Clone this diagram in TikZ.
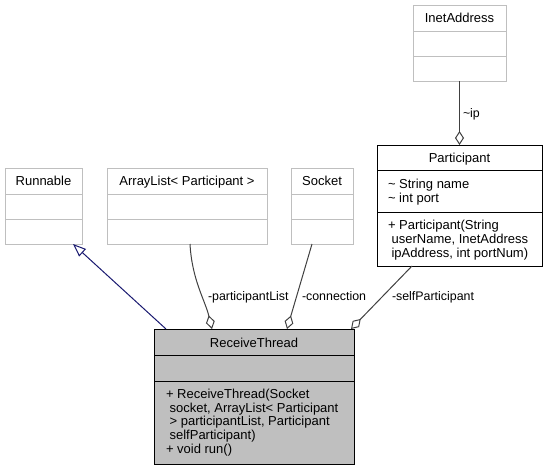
\documentclass[tikz,border=0pt]{standalone}
\usepackage{fontspec}
\setmainfont{Liberation Sans}
\usetikzlibrary{arrows.meta}
\definecolor{boxgray}{HTML}{BFBFBF}
\definecolor{edgegray}{HTML}{404040}
\definecolor{inhblue}{HTML}{191970}
\begin{document}
\begin{tikzpicture}[x=1pt,y=-1pt,
  every node/.style={font=\fontsize{13}{13.6}\selectfont, inner sep=0pt, outer sep=0pt},
  extcls/.style={rectangle, draw=boxgray, fill=white, line width=1pt},
  mycls/.style={rectangle, draw=black, fill=white, line width=1pt},
  maincls/.style={rectangle, draw=black, fill=boxgray, line width=1pt},
  extdiv/.style={draw=boxgray, line width=1pt},
  maindiv/.style={draw=black, line width=1pt},
  title/.style={anchor=base},
  members/.style={anchor=north west, align=left},
  aggr/.style={draw=edgegray, line width=1pt, {Diamond[open,length=14pt,width=9pt]}-},
  inh/.style={draw=inhblue, line width=1pt, -{Triangle[open,length=13pt,width=10pt]}},
  elabel/.style={anchor=base west, font=\fontsize{12.4}{13}\selectfont}
]
\useasboundingbox (0,0) rectangle (547,471);

% Runnable
\node[extcls, minimum width=77pt, minimum height=76pt] (run) at (43.5,206) {};
\draw[extdiv] (5,194) -- (82,194);
\draw[extdiv] (5,219) -- (82,219);
\node[title] (runt) at (43.5,185.5) {Runnable};

% ArrayList
\node[extcls, minimum width=160pt, minimum height=76pt] (al) at (187,206) {};
\draw[extdiv] (107,194) -- (267,194);
\draw[extdiv] (107,219) -- (267,219);
\node[title] (alt) at (187,185.5) {ArrayList< Participant >};

% Socket
\node[extcls, minimum width=62pt, minimum height=76pt] (sock) at (322,206) {};
\draw[extdiv] (291,194) -- (353,194);
\draw[extdiv] (291,219) -- (353,219);
\node[title] (sockt) at (322,185.5) {Socket};

% InetAddress
\node[extcls, minimum width=93pt, minimum height=76pt] (inet) at (459.5,43) {};
\draw[extdiv] (413,31) -- (506,31);
\draw[extdiv] (413,56) -- (506,56);
\node[title] (inett) at (459.5,22.5) {InetAddress};

% Participant
\node[mycls, minimum width=165pt, minimum height=121pt] (par) at (459.5,205.5) {};
\draw[maindiv] (377,170) -- (542,170);
\draw[maindiv] (377,212) -- (542,212);
\node[title] (part) at (459.5,162) {Participant};
\node[members] (para) at (388,178.5) {\rule{0pt}{10pt}\textasciitilde{} String name\\\textasciitilde{} int port};
\node[members] (parm) at (388,219.8) {\rule{0pt}{10pt}+ Participant(String\\\ userName, InetAddress\\\ ipAddress, int portNum)};

% ReceiveThread
\node[maincls, minimum width=200pt, minimum height=135pt] (rt) at (254,396.5) {};
\draw[maindiv] (154,355) -- (354,355);
\draw[maindiv] (154,381) -- (354,381);
\node[title] (rtt) at (254,347) {ReceiveThread};
\node[members] (rtm) at (166,388.6) {\rule{0pt}{10pt}+ ReceiveThread(Socket\\\ socket, ArrayList< Participant\\\ > participantList, Participant\\\ selfParticipant)\\+ void run()};

% Edges
\draw[inh] ([xshift=12pt]rt.north west) -- ([xshift=68pt]run.south west);
\draw[aggr] ([xshift=58pt]rt.north west) .. controls (205,300) and (192,280) .. ([xshift=83pt]al.south west);
\draw[aggr] ([xshift=133pt]rt.north west) -- ([xshift=21pt]sock.south west);
\draw[aggr] ([xshift=-3pt]rt.north east) -- ([xshift=35pt]par.south west);
\draw[aggr] (par.north) -- (inet.south);

% Edge labels
\node[elabel] (lpl) at (208,300.5) {-participantList};
\node[elabel] (lcon) at (302,300.5) {-connection};
\node[elabel] (lsp) at (392,300.5) {-selfParticipant};
\node[elabel] (lip) at (463,117.5) {\textasciitilde ip};
\end{tikzpicture}
\end{document}
